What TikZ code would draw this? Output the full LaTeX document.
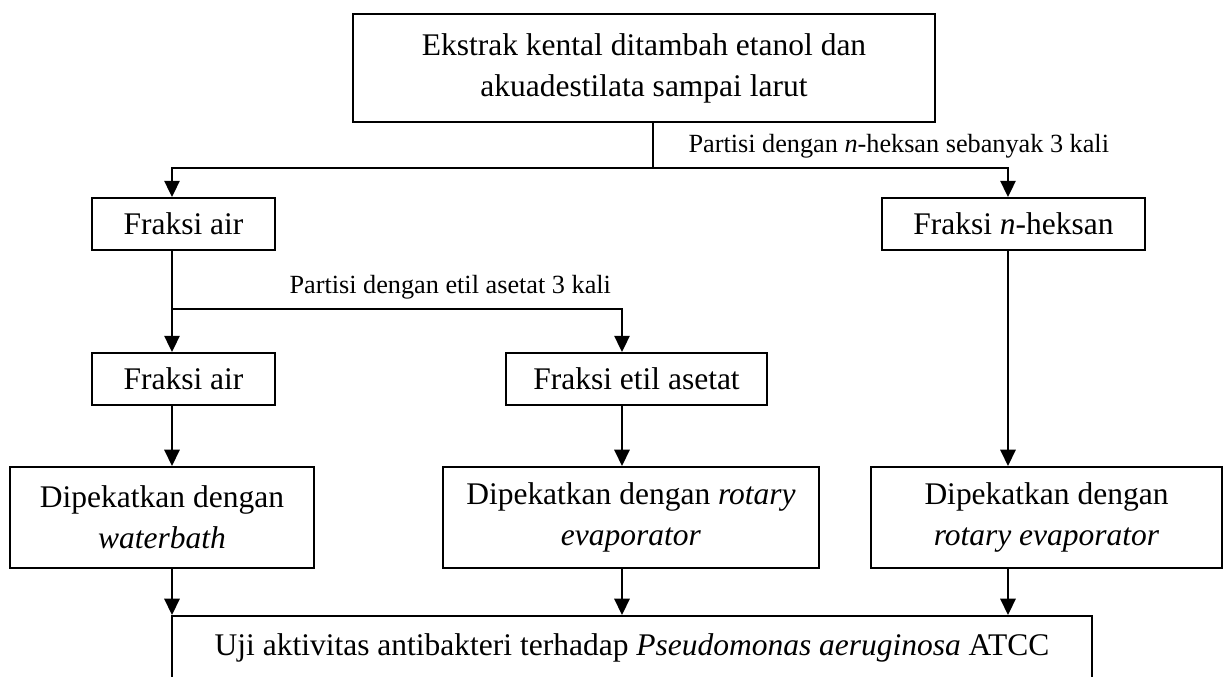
\documentclass[tikz,border=0pt]{standalone}
\usepackage{fontspec}
\setmainfont{Liberation Serif}
\usetikzlibrary{arrows.meta}
\begin{document}
\begin{tikzpicture}[x=0.381pt,y=-0.381pt,
    box/.style={draw,line width=0.75pt,align=center,inner sep=2pt,font=\fontsize{12pt}{15.6pt}\selectfont},
    lbl/.style={font=\fontsize{10pt}{12pt}\selectfont,inner sep=0pt},
    ln/.style={line width=0.9pt},
    arr/.style={line width=0.9pt,-{Triangle[length=6.2pt,width=5.8pt]}}]
    \useasboundingbox (0,0) rectangle (1224,677);
    \clip (0,0) rectangle (1224,677);
    \coordinate (kiri) at (172,0);
    \coordinate (tengah) at (622,0);
    \coordinate (kanan) at (1008,0);
    \coordinate (cabang1) at (653,168);
    \coordinate (cabang2) at (172,309);
    \node[box,minimum width=221.7pt,minimum height=41.1pt] (ekstrak) at (644,68) {Ekstrak kental ditambah etanol dan\\akuadestilata sampai larut};
    \node[box,minimum width=69.7pt,minimum height=19.8pt] (air1) at (183.5,224) {Fraksi air};
    \node[box,minimum width=100.2pt,minimum height=19.8pt] (heksan) at (1013.5,224) {Fraksi \textit{n}-heksan};
    \node[box,minimum width=69.7pt,minimum height=19.8pt] (air2) at (183.5,379) {Fraksi air};
    \node[box,minimum width=99.4pt,minimum height=19.8pt] (etil) at (636.5,379) {Fraksi etil asetat};
    \node[box,minimum width=115.8pt,minimum height=38.5pt] (pekat1) at (162,517.5) {Dipekatkan dengan\\\textit{waterbath}};
    \node[box,minimum width=143.2pt,minimum height=38.5pt] (pekat2) at (631,517.5) {Dipekatkan dengan \textit{rotary}\\\textit{evaporator}};
    \node[box,minimum width=133.7pt,minimum height=38.5pt] (pekat3) at (1046.5,517.5) {Dipekatkan dengan\\\textit{rotary evaporator}};
    \node[box,anchor=north,minimum width=350.5pt,minimum height=24.4pt] (uji) at (632,615) {Uji aktivitas antibakteri terhadap \textit{Pseudomonas aeruginosa} ATCC};
    \node[lbl,anchor=base west] (partisi1) at (688,153) {Partisi dengan \textit{n}-heksan sebanyak 3 kali};
    \node[lbl,anchor=base west] (partisi2) at (289,294) {Partisi dengan etil asetat 3 kali};
    \draw[ln] (ekstrak.south -| cabang1) -- (cabang1);
    \draw[arr] (cabang1) -| (kiri |- air1.north);
    \draw[arr] (cabang1) -| (kanan |- heksan.north);
    \draw[arr] (kiri |- air1.south) -- (kiri |- air2.north);
    \draw[arr] (cabang2) -| (tengah |- etil.north);
    \draw[arr] (kiri |- air2.south) -- (kiri |- pekat1.north);
    \draw[arr] (tengah |- etil.south) -- (tengah |- pekat2.north);
    \draw[arr] (kanan |- heksan.south) -- (kanan |- pekat3.north);
    \draw[arr] (kiri |- pekat1.south) -- (kiri |- uji.north);
    \draw[arr] (tengah |- pekat2.south) -- (tengah |- uji.north);
    \draw[arr] (kanan |- pekat3.south) -- (kanan |- uji.north);
\end{tikzpicture}
\end{document}
